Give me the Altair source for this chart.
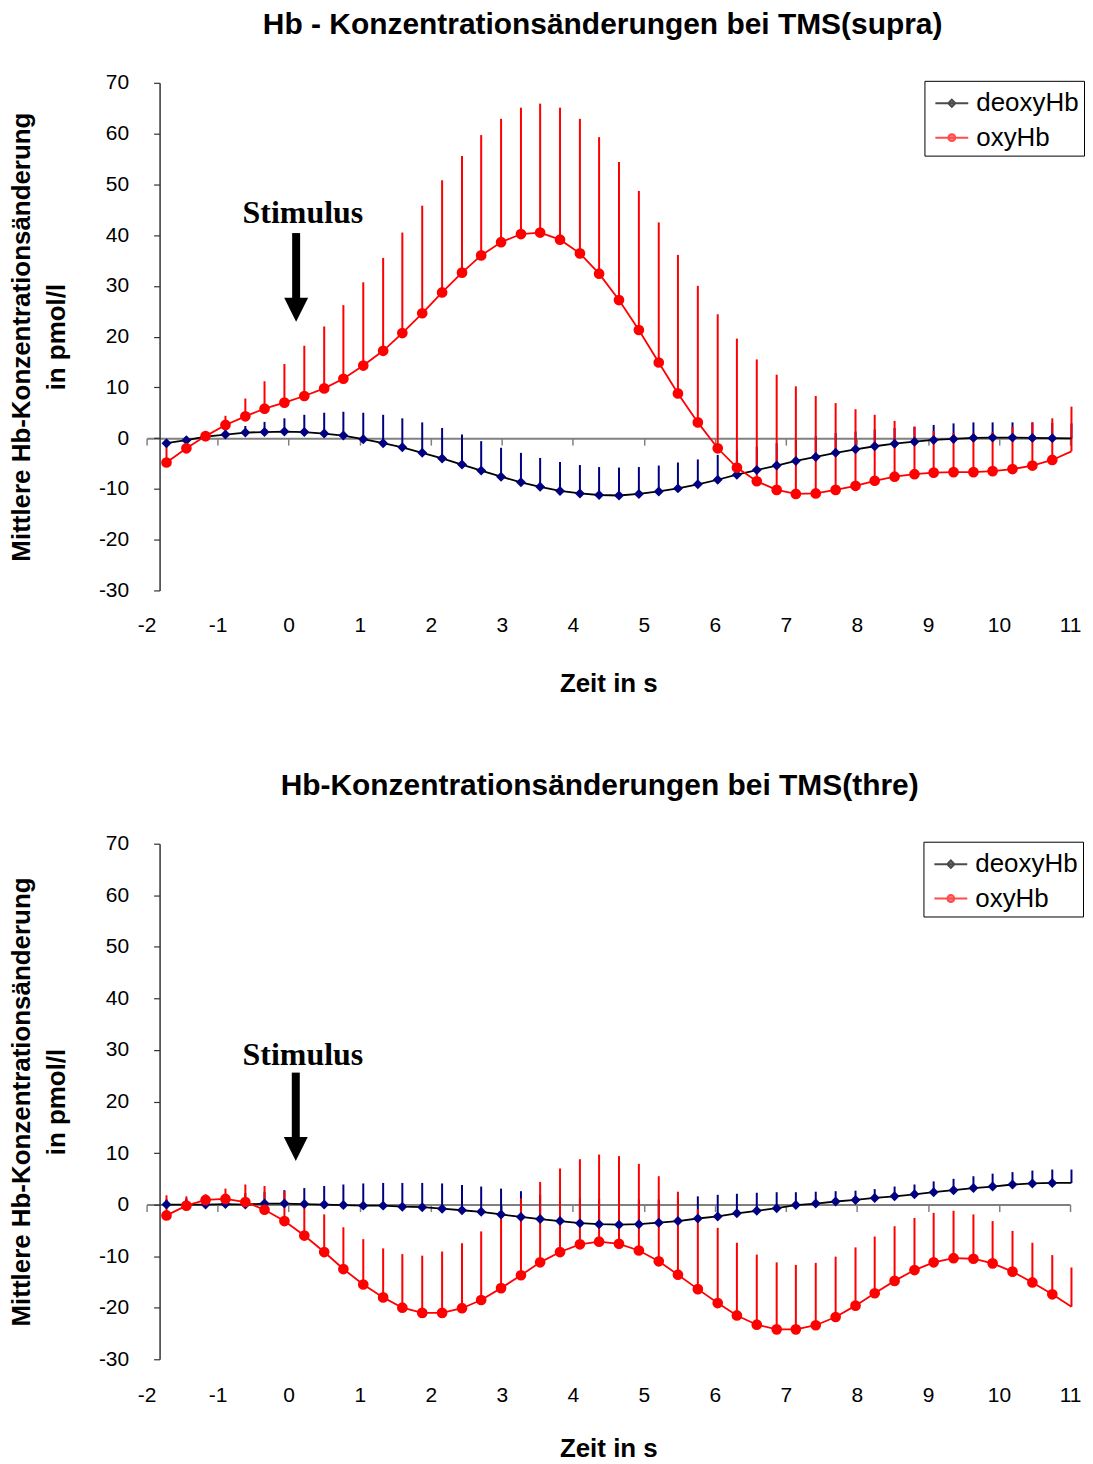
import altair as alt
import pandas as pd

# ---------------- data ----------------
t = [-1.72, -1.44, -1.17, -0.89, -0.61, -0.34, -0.06, 0.22, 0.50, 0.77,
     1.05, 1.33, 1.60, 1.88, 2.16, 2.44, 2.71, 2.99, 3.27, 3.54,
     3.82, 4.10, 4.37, 4.65, 4.93, 5.21, 5.48, 5.76, 6.04, 6.31,
     6.59, 6.87, 7.14, 7.42, 7.70, 7.98, 8.25, 8.53, 8.81, 9.08,
     9.36, 9.64, 9.91, 10.19, 10.47, 10.75, 11.02]

supra_deoxy = [-1.0, -0.4, 0.3, 0.7, 1.1, 1.2, 1.3, 1.2, 0.9, 0.5,
               -0.2, -1.0, -1.8, -2.9, -4.0, -5.2, -6.4, -7.6, -8.7, -9.6,
               -10.4, -10.9, -11.2, -11.3, -11.0, -10.5, -9.9, -9.1, -8.2, -7.2,
               -6.3, -5.4, -4.5, -3.7, -2.9, -2.2, -1.6, -1.1, -0.7, -0.35,
               -0.15, 0.05, 0.1, 0.1, 0.05, 0.0, -0.05]
supra_deoxy_top = [-0.5, 0.2, 1.0, 1.8, 2.4, 3.2, 3.9, 4.6, 5.0, 5.2,
                   5.0, 4.6, 3.9, 3.1, 2.0, 0.7, -0.6, -1.9, -2.9, -3.9,
                   -4.7, -5.3, -5.7, -5.8, -5.7, -5.4, -4.8, -4.2, -3.3, -2.4,
                   -1.7, -1.0, -0.3, 0.4, 1.0, 1.3, 1.7, 2.0, 2.2, 2.6,
                   2.9, 3.1, 3.1, 3.1, 3.1, 3.0, 2.9]
supra_oxy = [-4.8, -2.0, 0.4, 2.6, 4.3, 5.8, 7.0, 8.3, 9.8, 11.7,
             14.3, 17.2, 20.7, 24.6, 28.7, 32.6, 36.0, 38.6, 40.2, 40.5,
             39.1, 36.4, 32.4, 27.2, 21.3, 14.9, 8.8, 3.1, -2.0, -5.8,
             -8.5, -10.2, -11.0, -10.9, -10.2, -9.4, -8.4, -7.6, -7.1, -6.8,
             -6.7, -6.7, -6.5, -6.1, -5.4, -4.3, -2.6]
supra_oxy_top = [-0.5, -0.3, 1.0, 4.4, 7.8, 11.2, 14.6, 18.2, 22.0, 26.2,
                 30.7, 35.5, 40.5, 45.8, 50.8, 55.6, 59.7, 62.9, 65.1, 65.9,
                 65.1, 62.9, 59.3, 54.4, 48.7, 42.5, 36.1, 30.0, 24.4, 19.6,
                 15.5, 12.5, 10.2, 8.3, 6.9, 5.7, 4.6, 3.4, 2.3, 1.4,
                 1.0, 1.0, 1.2, 2.2, 3.1, 3.9, 6.2]

thre_deoxy = [0.0, 0.0, 0.0, 0.1, 0.0, 0.2, 0.2, 0.1, 0.0, -0.1,
              -0.2, -0.2, -0.4, -0.5, -0.8, -1.1, -1.4, -1.9, -2.4, -2.8,
              -3.2, -3.6, -3.8, -3.9, -3.8, -3.5, -3.2, -2.7, -2.3, -1.7,
              -1.2, -0.7, -0.1, 0.2, 0.6, 0.9, 1.3, 1.6, 2.0, 2.4,
              2.8, 3.2, 3.5, 3.9, 4.1, 4.2, 4.2]
thre_deoxy_top = [1.0, 1.2, 1.3, 1.8, 2.2, 2.5, 2.8, 3.2, 3.6, 3.9,
                  4.1, 4.2, 4.2, 4.2, 4.1, 3.8, 3.5, 3.1, 2.6, 1.9,
                  1.5, 1.3, 1.1, 1.1, 1.0, 1.0, 1.2, 1.6, 1.9, 2.1,
                  2.3, 2.4, 2.4, 2.5, 2.6, 2.7, 3.0, 3.5, 3.9, 4.5,
                  5.0, 5.5, 6.0, 6.3, 6.6, 6.8, 6.8]
thre_oxy = [-2.1, -0.2, 0.9, 1.1, 0.5, -1.0, -3.2, -6.0, -9.2, -12.5,
            -15.5, -18.0, -20.0, -21.0, -21.0, -20.1, -18.5, -16.2, -13.7, -11.2,
            -9.2, -7.7, -7.2, -7.6, -8.9, -11.0, -13.6, -16.4, -19.1, -21.5,
            -23.3, -24.2, -24.2, -23.4, -21.8, -19.6, -17.2, -14.8, -12.7, -11.2,
            -10.4, -10.5, -11.4, -13.0, -15.1, -17.4, -19.8]
thre_oxy_top = [1.8, 1.6, 2.0, 3.1, 3.9, 3.6, 2.6, 0.0, -1.9, -4.4,
                -6.7, -8.5, -9.6, -9.9, -9.1, -7.5, -5.2, -2.2, 1.2, 4.4,
                7.0, 8.8, 9.7, 9.4, 7.9, 5.5, 2.5, -0.9, -4.5, -7.4,
                -9.7, -11.2, -11.7, -11.3, -10.1, -8.3, -6.2, -4.2, -2.6, -1.6,
                -1.2, -1.9, -3.2, -5.1, -7.4, -9.8, -12.2]

x_ticks = list(range(-2, 12))
y_ticks = list(range(-30, 80, 10))
series_names = ["deoxyHb", "oxyHb"]

# Stimulus annotation per panel: arrow x, shaft top, shaft bottom, head centre, label x, label y
supra_arrow = {"x": [0.105], "top": [40.4], "bottom": [26.5], "head": [25.3], "lx": [0.20], "ly": [44.3]}
thre_arrow = {"x": [0.1], "top": [25.6], "bottom": [12.4], "head": [10.8], "lx": [0.20], "ly": [29.1]}

titles = ["Hb - Konzentrationsänderungen bei TMS(supra)", "Hb-Konzentrationsänderungen bei TMS(thre)"]

FONT = "Liberation Sans"
NAVY = "#000080"
RED = "#FF0000"

DIAMOND_LEG = "M-0.7,0L1.3,0M0.3,-0.22L0.52,0L0.3,0.22L0.08,0Z"
CIRCLE_LEG = "M-0.7,0L1.3,0M0.09,0A0.21,0.21,0,1,1,0.51,0A0.21,0.21,0,1,1,0.09,0Z"
HEAD = "M-1,-1L1,-1L0,1Z"
PLAIN_LABEL = "'' + datum.value"


def panel(title, deoxy, deoxy_top, oxy, oxy_top, arrow, width, height,
          x_label_pad, x_title_pad, legend_x, title_dx, title_offset):
    df = pd.DataFrame({"t": t, "deoxy": deoxy, "deoxy_top": deoxy_top,
                       "oxy": oxy, "oxy_top": oxy_top})
    long_df = pd.DataFrame({"t": t + t, "value": deoxy + oxy,
                            "series": [series_names[0]] * len(t) + [series_names[1]] * len(t)})
    adf = pd.DataFrame(arrow)

    xs = alt.Scale(domain=[-2, 11], nice=False, zero=False)
    ys = alt.Scale(domain=[-30, 70], nice=False, zero=False)
    xax = alt.Axis(values=x_ticks, title="Zeit in s", offset=-0.3 * height,
                   tickSize=7, tickColor="#808080", tickWidth=1.5,
                   domainColor="#808080", domainWidth=2,
                   labelPadding=x_label_pad, labelFont=FONT, labelFontSize=21,
                   labelColor="black", labelFlush=False, labelOverlap=False,
                   labelExpr=PLAIN_LABEL,
                   titleFont=FONT, titleFontSize=26, titleFontWeight="bold",
                   titleColor="black", titlePadding=x_title_pad, grid=False)
    yax = alt.Axis(values=y_ticks, title=["Mittlere Hb-Konzentrationsänderung", "in pmol/l"],
                   offset=-13, tickSize=6, tickColor="#333333", tickWidth=1.2,
                   domainColor="#333333", domainWidth=1.5,
                   labelPadding=25, labelFont=FONT, labelFontSize=21, labelColor="black",
                   labelFlush=False, labelOverlap=False, labelExpr=PLAIN_LABEL,
                   titleFont=FONT, titleFontSize=26, titleFontWeight="bold",
                   titleColor="black", titlePadding=29, titleLineHeight=35, grid=False)

    def X(field="t"):
        return alt.X(f"{field}:Q", scale=xs, axis=xax)

    def Y(field):
        return alt.Y(f"{field}:Q", scale=ys, axis=yax)

    base = alt.Chart(df)
    blue_bars = base.mark_rule(color=NAVY, strokeWidth=2).encode(x=X(), y=Y("deoxy"), y2="deoxy_top:Q")
    red_bars = base.mark_rule(color=RED, strokeWidth=2).encode(x=X(), y=Y("oxy"), y2="oxy_top:Q")
    blue_line = base.mark_line(color="black", strokeWidth=1.8).encode(x=X(), y=Y("deoxy"))
    blue_pts = base.transform_filter(alt.datum.t <= 11).mark_point(
        shape="diamond", filled=True, color=NAVY, size=100, opacity=1).encode(x=X(), y=Y("deoxy"))
    red_line = base.mark_line(color=RED, strokeWidth=1.8).encode(x=X(), y=Y("oxy"))
    red_pts = base.transform_filter(alt.datum.t <= 11).mark_point(
        shape="circle", filled=True, color=RED, size=115, opacity=1).encode(x=X(), y=Y("oxy"))

    leg = alt.Legend(title=None, orient="none", legendX=legend_x, legendY=-2,
                     padding=5, strokeColor="black", fillColor="white",
                     symbolSize=1089, symbolStrokeWidth=2, labelFont=FONT,
                     labelFontSize=26, labelColor="black", labelOffset=12,
                     rowPadding=3.5, labelLimit=300)
    legend_layer = alt.Chart(long_df).mark_point(filled=True, size=0).encode(
        x=X(), y=Y("value"),
        fill=alt.Fill("series:N", scale=alt.Scale(domain=series_names, range=[NAVY, RED]), legend=leg),
        stroke=alt.Stroke("series:N", scale=alt.Scale(domain=series_names, range=["black", RED]), legend=leg),
        shape=alt.Shape("series:N", scale=alt.Scale(domain=series_names, range=[DIAMOND_LEG, CIRCLE_LEG]), legend=leg),
    )

    ab = alt.Chart(adf)
    shaft = ab.mark_rule(color="black", strokeWidth=8).encode(x=X("x"), y=Y("top"), y2="bottom:Q")
    head = ab.mark_point(shape=HEAD, filled=True, color="black", size=576, opacity=1).encode(x=X("x"), y=Y("head"))
    label = ab.mark_text(text="Stimulus", font="Liberation Serif", fontSize=32, fontWeight="bold",
                         color="black", align="center", baseline="middle").encode(x=X("lx"), y=Y("ly"))

    return alt.layer(blue_bars, red_bars, blue_line, blue_pts, red_line, red_pts,
                     legend_layer, shaft, head, label).properties(
        width=width, height=height,
        title=alt.TitleParams(title, font=FONT, fontSize=30, fontWeight="bold", color="black",
                              anchor="middle", frame="group", dx=title_dx, offset=title_offset))


top = panel(titles[0], supra_deoxy, supra_deoxy_top, supra_oxy, supra_oxy_top, supra_arrow,
            926, 509, 170, 35, 780, -5.7, 31.5)
bottom = panel(titles[1], thre_deoxy, thre_deoxy_top, thre_oxy, thre_oxy_top, thre_arrow,
               926, 517, 173.5, 32, 779, -8.7, 32)

chart = alt.concat(top, bottom, columns=1, spacing=74).resolve_scale(
    fill="independent", stroke="independent", shape="independent"
).resolve_legend(
    fill="independent", stroke="independent", shape="independent"
).properties(
    padding={"left": 0, "top": 0, "right": 0, "bottom": 0}
).configure(background="white", view=alt.ViewConfig(stroke=None))

chart.save("out.html", embed_options={"renderer": "svg", "actions": False})
